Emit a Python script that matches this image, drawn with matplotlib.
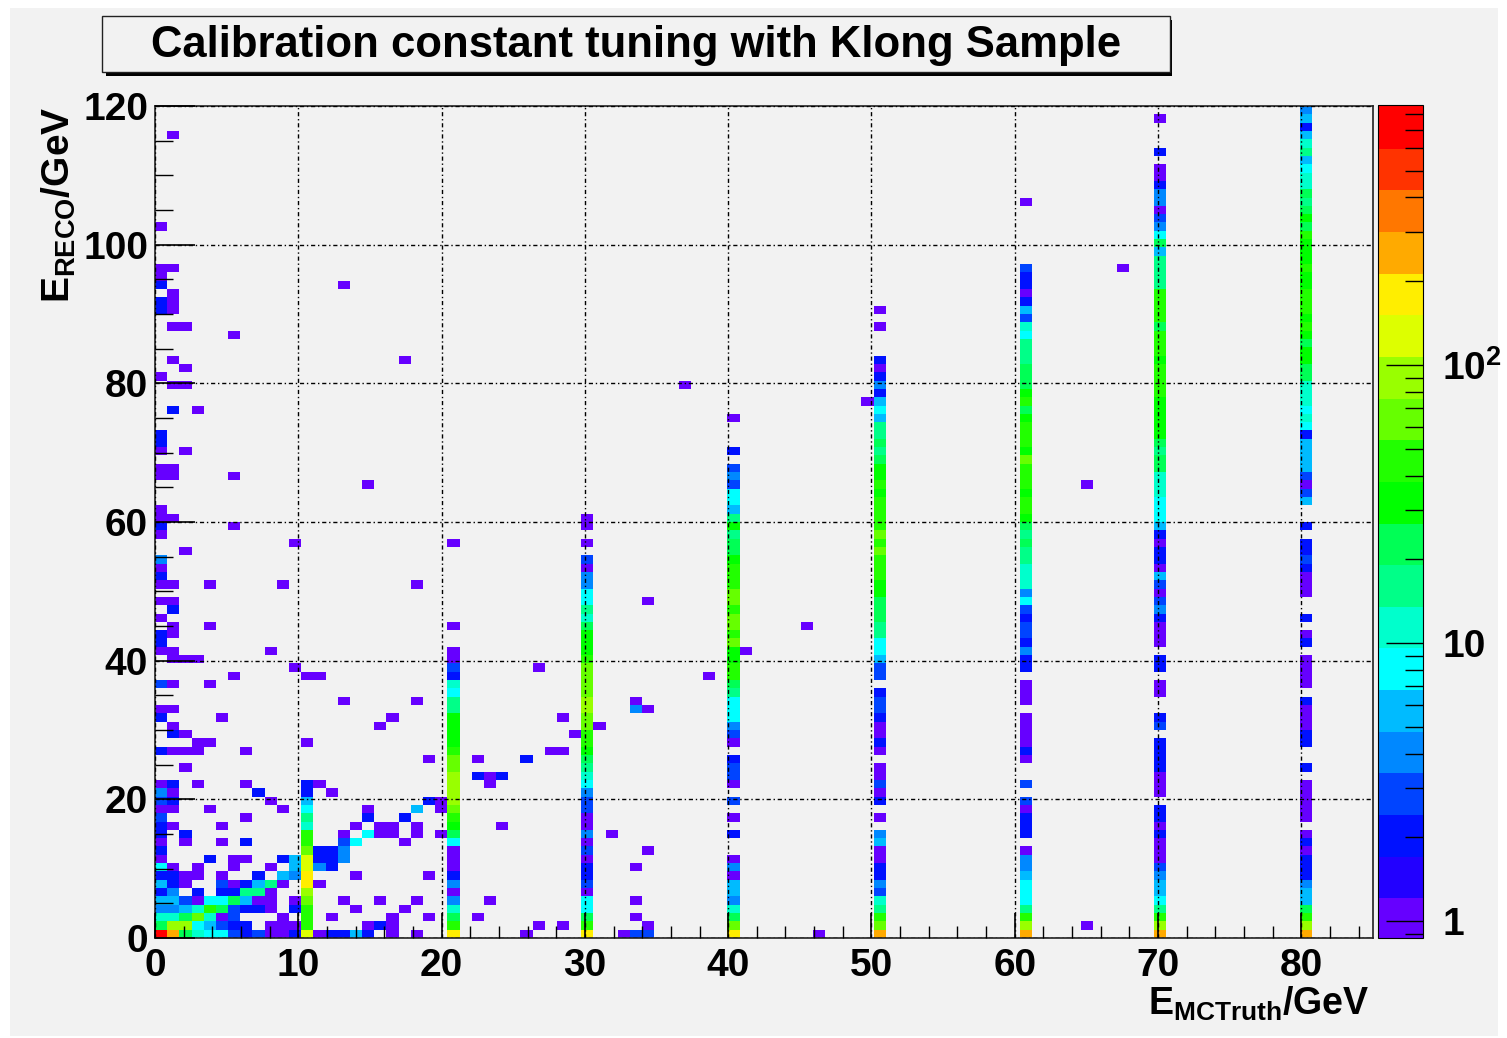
import numpy as np
import matplotlib
matplotlib.use('Agg')
import matplotlib.pyplot as plt
from matplotlib.colors import ListedColormap, LogNorm
from matplotlib.patches import Rectangle
from matplotlib.ticker import LogLocator, MultipleLocator, NullFormatter

plt.rcParams['font.family'] = ['Liberation Sans', 'DejaVu Sans']
plt.rcParams['mathtext.fontset'] = 'custom'
plt.rcParams['mathtext.rm'] = 'Liberation Sans:bold'
plt.rcParams['mathtext.default'] = 'rm'

W, H = 1507, 1038

title = 'Calibration constant tuning with Klong Sample'
xlabel = r'$\mathrm{E_{MCTruth}/GeV}$'
ylabel = r'$\mathrm{E_{RECO}/GeV}$'
n_bins = 100
x_max = 85.
y_max = 120.
z_min = 0.87
z_max = 860.

palette = ['#6600ff', '#2200ff', '#0011ff', '#0044ff', '#0088ff', '#00bbff',
           '#00ffff', '#00ffcc', '#00ff88', '#00ff55', '#00ff00', '#22ff00',
           '#66ff00', '#99ff00', '#ddff00', '#ffee00', '#ffaa00', '#ff7700',
           '#ff3300', '#ff0000']

# the beam energy columns, counts per y bin from the bottom up, 0 is empty
col_12 = [130, 45, 45, 45, 65, 90, 180, 180, 130, 130, 65, 45, 45, 12, 16, 8,
          6, 2, 2, 0, 0, 0, 0, 1]
col_24 = [180, 45, 24, 12, 4, 1, 4, 2, 1, 1, 1, 8, 24, 32, 45, 65, 90, 90, 90,
          90, 65, 65, 45, 32, 32, 32, 32, 16, 16, 8, 12, 2, 3, 1, 1, 0, 0, 1,
          0, 0, 0, 0, 0, 0, 0, 0, 0, 1]
col_35 = [180, 45, 24, 8, 8, 1, 3, 2, 2, 1, 3, 1, 4, 1, 1, 3, 3, 4, 8, 12, 16,
          24, 32, 45, 45, 65, 65, 90, 90, 65, 65, 65, 65, 45, 32, 32, 32, 24,
          12, 16, 8, 8, 4, 4, 1, 3, 0, 1, 0, 1, 1]
col_47 = [180, 65, 24, 12, 4, 6, 6, 1, 4, 1, 0, 0, 2, 0, 1, 0, 3, 0, 1, 3, 3,
          2, 0, 1, 3, 4, 8, 8, 8, 16, 24, 45, 45, 32, 32, 65, 45, 65, 65, 45,
          65, 65, 45, 45, 45, 32, 24, 24, 16, 32, 16, 6, 8, 8, 3, 4, 3, 0, 2,
          0, 0, 0, 1]
col_59 = [260, 65, 45, 16, 12, 3, 4, 2, 2, 1, 1, 6, 4, 0, 1, 0, 2, 1, 3, 1, 1,
          0, 1, 2, 1, 1, 2, 3, 3, 2, 0, 3, 3, 6, 8, 8, 16, 16, 24, 24, 24, 32,
          32, 45, 45, 45, 65, 45, 65, 45, 45, 45, 45, 32, 45, 32, 32, 24, 16,
          24, 16, 16, 6, 8, 6, 2, 4, 2, 1, 2, 0, 0, 0, 1, 0, 1]
col_71 = [260, 90, 45, 16, 8, 8, 8, 6, 4, 4, 1, 0, 2, 2, 2, 1, 3, 0, 3, 0, 0,
          1, 2, 1, 1, 1, 1, 0, 1, 1, 1, 0, 2, 2, 4, 2, 3, 3, 2, 3, 8, 4, 12,
          12, 12, 16, 16, 24, 16, 24, 32, 45, 45, 32, 45, 45, 45, 65, 32, 45,
          45, 45, 32, 24, 45, 32, 24, 24, 24, 16, 16, 16, 8, 12, 3, 6, 2, 1,
          2, 2, 3]
col_82 = [260, 90, 45, 16, 8, 6, 6, 4, 3, 1, 1, 1, 2, 1, 2, 2, 0, 1, 1, 1, 2,
          2, 2, 2, 0, 3, 2, 0, 0, 1, 1, 0, 2, 2, 0, 1, 1, 1, 2, 4, 3, 1, 3, 6,
          1, 2, 2, 1, 2, 6, 8, 8, 8, 12, 12, 12, 24, 24, 16, 24, 32, 32, 32,
          32, 32, 45, 45, 45, 45, 32, 45, 45, 45, 24, 45, 45, 45, 45, 16, 16,
          16, 16, 6, 24, 8, 4, 3, 1, 4, 4, 2, 1, 1, 0, 2, 0, 0, 0, 1]
col_94 = [260, 90, 45, 24, 6, 6, 4, 2, 2, 2, 1, 2, 1, 0, 1, 1, 1, 1, 1, 0, 2,
          0, 0, 2, 2, 1, 1, 1, 2, 0, 1, 1, 1, 1, 0, 2, 1, 0, 2, 0, 0, 1, 1, 1,
          2, 3, 2, 2, 0, 2, 0, 0, 6, 3, 1, 3, 6, 6, 6, 6, 2, 8, 12, 8, 12, 12,
          12, 24, 24, 32, 32, 24, 32, 45, 32, 45, 45, 45, 32, 32, 45, 32, 32,
          32, 45, 24, 32, 24, 16, 24, 12, 12, 8, 6, 16, 12, 6, 2, 6, 4]
columns = {12: col_12, 24: col_24, 35: col_35, 47: col_47,
           59: col_59, 71: col_71, 82: col_82, 94: col_94}

# everything else, y bin: {x bin: count}
other_hits = {
    0: {0: 800, 1: 260, 2: 24, 3: 12, 4: 8, 5: 8, 6: 3, 7: 2, 8: 3, 9: 1, 10: 1,
        11: 2, 13: 1, 14: 2, 15: 2, 16: 6, 17: 2, 19: 1, 21: 1, 30: 1, 38: 1,
        39: 3, 40: 3, 54: 1},
    1: {0: 24, 1: 90, 2: 90, 3: 8, 4: 6, 5: 3, 6: 2, 7: 2, 9: 1, 10: 1, 11: 1,
        17: 1, 18: 2, 19: 1, 31: 1, 33: 1, 40: 1, 76: 1},
    2: {0: 12, 1: 12, 2: 24, 3: 65, 4: 12, 5: 1, 6: 3, 10: 1, 14: 1, 19: 1,
        22: 1, 26: 1, 39: 1},
    3: {0: 4, 1: 4, 2: 6, 3: 12, 4: 45, 5: 24, 6: 3, 7: 2, 8: 2, 9: 1, 11: 2,
        16: 1, 20: 1},
    4: {0: 6, 1: 6, 2: 3, 3: 1, 4: 8, 5: 8, 6: 24, 7: 6, 8: 1, 9: 1, 11: 1,
        15: 1, 18: 1, 21: 1, 27: 1, 39: 1},
    5: {0: 2, 1: 4, 3: 2, 5: 2, 6: 2, 7: 16, 8: 16, 9: 1},
    6: {0: 6, 1: 2, 2: 1, 5: 3, 6: 1, 7: 2, 8: 6, 9: 16, 10: 1, 13: 1},
    7: {0: 2, 1: 2, 2: 1, 3: 1, 5: 1, 8: 2, 10: 6, 11: 4, 16: 1, 22: 1},
    8: {0: 8, 1: 1, 3: 1, 6: 1, 9: 1, 11: 6, 13: 4, 14: 2, 39: 1},
    9: {0: 1, 4: 2, 6: 1, 7: 1, 10: 2, 11: 6, 13: 2, 14: 2, 15: 4},
    10: {0: 2, 13: 2, 14: 2, 15: 4, 40: 1},
    11: {0: 1, 2: 1, 5: 1, 7: 2, 15: 3, 16: 8, 20: 1},
    12: {0: 2, 2: 2, 15: 1, 17: 8, 18: 1, 19: 1, 21: 1, 23: 1, 37: 1},
    13: {0: 2, 1: 1, 5: 1, 16: 1, 18: 1, 19: 1, 21: 1, 28: 1},
    14: {0: 3, 7: 1, 17: 2, 20: 2},
    15: {0: 1, 1: 1, 4: 1, 10: 1, 17: 1, 21: 6, 23: 1},
    16: {0: 3, 1: 2, 9: 1, 22: 2, 23: 1},
    17: {0: 4, 1: 1, 8: 2, 14: 1},
    18: {0: 1, 1: 2, 3: 1, 7: 1, 13: 1, 27: 1},
    19: {26: 2, 27: 1, 28: 2},
    20: {2: 1},
    21: {22: 1, 26: 1, 30: 2},
    22: {0: 2, 1: 1, 2: 1, 3: 1, 7: 1, 32: 1, 33: 1},
    23: {3: 1, 4: 1},
    24: {1: 2, 2: 1, 34: 1},
    25: {1: 1, 18: 1, 36: 1},
    26: {0: 2, 5: 1, 19: 1, 33: 1},
    27: {0: 1, 1: 1, 39: 4, 40: 1},
    28: {15: 1, 21: 1, 39: 1},
    30: {0: 3, 1: 1, 4: 1},
    31: {6: 1, 12: 1, 13: 1, 45: 1},
    32: {11: 1, 31: 1},
    33: {1: 1, 2: 1, 3: 1},
    34: {0: 1, 1: 1, 9: 1, 48: 1},
    35: {0: 2},
    36: {0: 2, 1: 1},
    37: {1: 1, 4: 1, 53: 1},
    38: {0: 1},
    39: {1: 2},
    40: {0: 1, 1: 1, 40: 1},
    42: {0: 1, 1: 1, 4: 1, 10: 1, 21: 1},
    43: {0: 2},
    44: {0: 1},
    45: {0: 4},
    46: {2: 1},
    47: {11: 1},
    48: {0: 1},
    49: {0: 2, 6: 1},
    50: {0: 1, 1: 1},
    51: {0: 1},
    54: {17: 1, 76: 1},
    55: {0: 1, 1: 1, 6: 1},
    56: {0: 1, 1: 1},
    58: {0: 1, 2: 1},
    59: {0: 2},
    60: {0: 2},
    63: {1: 2, 3: 1},
    64: {58: 1},
    66: {1: 1, 2: 1, 43: 1},
    67: {0: 1},
    68: {2: 1},
    69: {1: 1, 20: 1},
    72: {6: 1},
    73: {1: 1, 2: 1},
    75: {0: 2, 1: 1},
    76: {0: 2, 1: 1},
    77: {1: 1},
    78: {0: 2, 15: 1},
    79: {0: 1},
    80: {0: 1, 1: 1, 79: 1},
    85: {0: 1},
    88: {71: 1},
    96: {1: 1},
}


def fill_counts():
    counts = np.zeros((n_bins, n_bins))
    for xbin, col in columns.items():
        counts[:len(col), xbin] = col
    for ybin, hits in other_hits.items():
        for xbin, c in hits.items():
            counts[ybin, xbin] = c
    return np.ma.masked_equal(counts, 0)


def px_box(left, top, right, bottom):
    # pixel box (from top left) to figure fractions
    return [left / W, 1 - bottom / H, (right - left) / W, (bottom - top) / H]


def add_fig_rect(fig, left, top, right, bottom, **kwargs):
    x, y, w, h = px_box(left, top, right, bottom)
    fig.patches.append(Rectangle((x, y), w, h, transform=fig.transFigure,
                                 zorder=-1, **kwargs))


def main():
    fig = plt.figure(figsize=(W / 100, H / 100), dpi=100, facecolor='white')
    add_fig_rect(fig, 10, 8, 1498, 1036, fc='#f2f2f2', ec='none')
    # title box with its shadow
    add_fig_rect(fig, 106, 20, 1172, 76, fc='black', ec='none')
    add_fig_rect(fig, 102, 16, 1170, 72, fc='#f2f2f2', ec='#222222', lw=1)
    fig.text(636 / W, 1 - 45 / H, title, ha='center', va='center',
             fontsize=31.4, fontweight='bold', color='black')

    ax = fig.add_axes(px_box(155, 106, 1373, 938))
    ax.set_facecolor('#f2f2f2')
    xedges = np.linspace(0, x_max, n_bins + 1)
    yedges = np.linspace(0, y_max, n_bins + 1)
    cmap = ListedColormap(palette)
    norm = LogNorm(z_min, z_max)
    mesh = ax.pcolormesh(xedges, yedges, fill_counts(), cmap=cmap, norm=norm,
                         edgecolors='none', antialiased=False)
    ax.set_xlim(0, x_max)
    ax.set_ylim(0, y_max)

    ax.xaxis.set_major_locator(MultipleLocator(10))
    ax.xaxis.set_minor_locator(MultipleLocator(2))
    ax.yaxis.set_major_locator(MultipleLocator(20))
    ax.yaxis.set_minor_locator(MultipleLocator(5))
    ax.set_axisbelow(False)
    ax.grid(True, which='major', color='black', lw=1, linestyle=(0, (3, 2, 1, 2)))
    ax.tick_params(axis='x', which='major', direction='in', length=18, width=1.2,
                   labelsize=28, pad=7.5)
    ax.tick_params(axis='x', which='minor', direction='in', length=9, width=1)
    ax.tick_params(axis='y', which='major', direction='in', length=29, width=1.2,
                   labelsize=28, pad=5)
    ax.tick_params(axis='y', which='minor', direction='in', length=13, width=1)
    for lab in ax.get_xticklabels() + ax.get_yticklabels():
        lab.set_fontweight('bold')
    for side in ['top', 'right', 'left', 'bottom']:
        ax.spines[side].set_linewidth(1.2)
        ax.spines[side].set_color('#222222')

    fig.text(1370 / W, 1 - 1004 / H, xlabel, ha='right', va='center', fontsize=27)
    fig.text(59 / W, 1 - 107 / H, ylabel, ha='center', va='top',
             rotation=90, fontsize=28)

    cax = fig.add_axes(px_box(1378, 105, 1423, 938))
    cb = fig.colorbar(mesh, cax=cax)
    cb.solids.set_edgecolor('face')
    cb.outline.set_linewidth(0.8)
    cb.set_ticks([1, 10, 100])
    cb.set_ticklabels(['1', '10', r'$\mathrm{10^{2}}$'])
    cax.yaxis.set_minor_locator(LogLocator(base=10, subs=np.arange(1, 10) * 1.))
    cax.yaxis.set_minor_formatter(NullFormatter())
    cax.tick_params(which='major', direction='in', length=27, width=1,
                    labelsize=28, pad=14)
    cax.tick_params(which='minor', direction='in', length=13, width=1)
    for lab in cax.get_yticklabels():
        lab.set_fontweight('bold')

    fig.savefig('out.png', dpi=100, facecolor=fig.get_facecolor())


if __name__ == '__main__':
    main()
